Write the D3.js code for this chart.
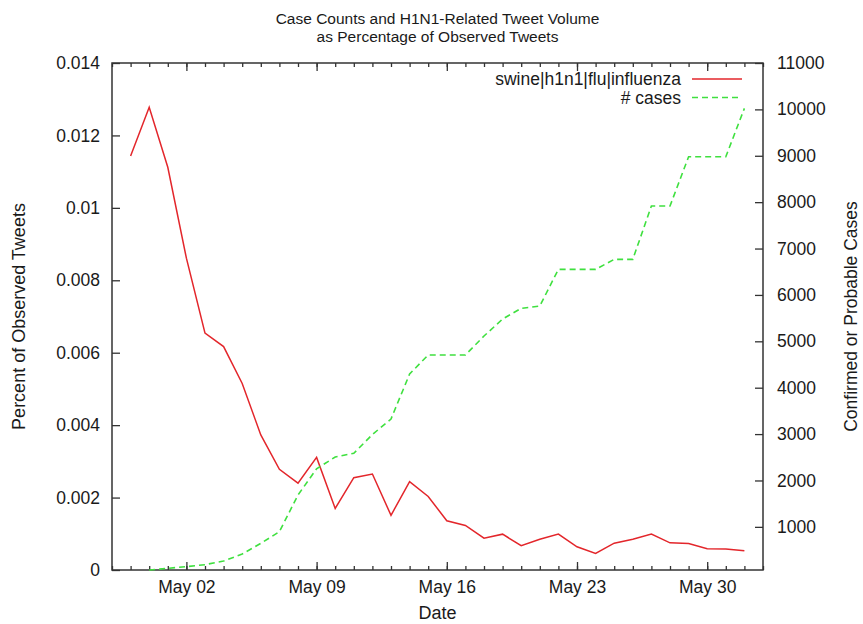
<!DOCTYPE html>
<html>
<head>
<meta charset="utf-8">
<script src="https://cdn.jsdelivr.net/npm/d3@7/dist/d3.min.js"></script>
<style>
  body { margin: 0; background: #fff; }
  svg text { font-family: "Liberation Sans", Arial, sans-serif; fill: #1a1a1a; }
  .axis line { stroke: #333; stroke-width: 1.3px; }
  .axis path { display: none; }
</style>
</head>
<body>
<svg id="chart" width="863" height="624"></svg>
<script>
// tweet volume (% of observed tweets), one value per day from Apr 29
const tweetStart = "2009-04-29";
const tweetPct = [0.01143, 0.01278, 0.01112, 0.00861, 0.00654, 0.00617, 0.00515, 0.00373,
  0.00278, 0.00240, 0.00311, 0.00170, 0.00255, 0.00265, 0.00151, 0.00244, 0.00203,
  0.00136, 0.00123, 0.00088, 0.00099, 0.00067, 0.00085, 0.00099, 0.00064, 0.00046,
  0.00074, 0.00085, 0.00099, 0.00075, 0.00073, 0.00059, 0.00058, 0.00053];

// confirmed or probable cases, one value per day from Apr 30
const caseStart = "2009-04-30";
const caseCounts = [70, 107, 141, 185, 264, 415, 645, 896, 1687, 2252, 2506, 2586, 2991,
  3325, 4295, 4705, 4705, 4705, 5114, 5481, 5711, 5761, 6552, 6552, 6552, 6767, 6767,
  7917, 7917, 8979, 8979, 8979, 10022];

const xDomain = ["2009-04-28", "2009-06-02"];
const majorTickDates = ["2009-05-02", "2009-05-09", "2009-05-16", "2009-05-23", "2009-05-30"];
const leftTicks = [0, 0.002, 0.004, 0.006, 0.008, 0.01, 0.012, 0.014];
const rightTicks = [1000, 2000, 3000, 4000, 5000, 6000, 7000, 8000, 9000, 10000, 11000];

const seriesNames = ["swine|h1n1|flu|influenza", "# cases"];
const titleLines = ["Case Counts and H1N1-Related Tweet Volume", "as Percentage of Observed Tweets"];

const parse = d3.timeParse("%Y-%m-%d");
const dayList = (start, n) => d3.range(n).map(i => d3.timeDay.offset(parse(start), i));
const tweetData = dayList(tweetStart, tweetPct.length).map((d, i) => ({date: d, v: tweetPct[i]}));
const caseData = dayList(caseStart, caseCounts.length).map((d, i) => ({date: d, v: caseCounts[i]}));

const svg = d3.select("#chart"),
  margin = {top: 63, right: 100, bottom: 54, left: 112},
  width = +svg.attr("width") - margin.left - margin.right,
  height = +svg.attr("height") - margin.top - margin.bottom,
  g = svg.append("g").attr("transform", "translate(" + margin.left + "," + margin.top + ")");

const x = d3.scaleTime().domain(xDomain.map(parse)).range([0, width]);
const y = d3.scaleLinear().domain([0, 0.014]).range([height, 0]);
const y2 = d3.scaleLinear().domain([d3.min(caseCounts), 11000]).range([height, 0]);

const red = "#e3262b", green = "#3fe03f";
const fontSize = 17.5;

// minor daily ticks, bottom and top
const days = d3.timeDay.range(x.domain()[0], d3.timeDay.offset(x.domain()[1], 1));
g.append("g").attr("class", "axis")
  .attr("transform", "translate(0," + height + ")")
  .call(d3.axisBottom(x).tickValues(days).tickSize(-4).tickFormat(""));
g.append("g").attr("class", "axis")
  .call(d3.axisTop(x).tickValues(days).tickSize(-4).tickFormat(""));

// major weekly ticks
g.append("g").attr("class", "axis")
  .attr("transform", "translate(0," + height + ")")
  .call(d3.axisBottom(x).tickValues(majorTickDates.map(parse)).tickSize(-8).tickPadding(11)
    .tickFormat(d3.timeFormat("%b %d")));
g.append("g").attr("class", "axis")
  .call(d3.axisTop(x).tickValues(majorTickDates.map(parse)).tickSize(-8).tickFormat(""));

g.append("g").attr("class", "axis")
  .call(d3.axisLeft(y).tickValues(leftTicks).tickSize(-8).tickPadding(12)
    .tickFormat(d => String(+d.toFixed(3))));

g.append("g").attr("class", "axis")
  .attr("transform", "translate(" + width + ",0)")
  .call(d3.axisRight(y2).tickValues(rightTicks).tickSize(-8).tickPadding(14).tickFormat(d3.format("d")));

g.selectAll(".axis text").attr("font-size", fontSize).style("fill", "#1a1a1a");

// frame
g.append("rect")
  .attr("width", width).attr("height", height)
  .attr("fill", "none").attr("stroke", "#333").attr("stroke-width", 1.5);

const lineTweets = d3.line().x(d => x(d.date)).y(d => y(d.v));
const lineCases = d3.line().x(d => x(d.date)).y(d => y2(d.v));

g.append("path").datum(tweetData)
  .attr("d", lineTweets).attr("fill", "none").attr("stroke", red).attr("stroke-width", 1.5);
g.append("path").datum(caseData)
  .attr("d", lineCases).attr("fill", "none").attr("stroke", green)
  .attr("stroke-width", 1.6).attr("stroke-dasharray", "6,4");

// legend
const legend = g.append("g").attr("transform", "translate(" + (width - 82) + ",16)");
seriesNames.forEach((name, i) => {
  const row = legend.append("g").attr("transform", "translate(0," + (i * 18.5) + ")");
  row.append("text").attr("x", 0).attr("y", 0).attr("dy", "0.35em")
    .attr("text-anchor", "end").attr("font-size", fontSize).text(name);
  row.append("line").attr("x1", 11).attr("x2", 61).attr("y1", 0).attr("y2", 0)
    .attr("stroke", i === 0 ? red : green).attr("stroke-width", i === 0 ? 1.5 : 1.6)
    .attr("stroke-dasharray", i === 0 ? null : "6,4");
});

// title and axis labels
svg.append("g").selectAll("text").data(titleLines).enter().append("text")
  .attr("x", margin.left + width / 2).attr("y", (d, i) => 24 + i * 18)
  .attr("text-anchor", "middle").attr("font-size", 15.5).text(d => d);

svg.append("text")
  .attr("x", margin.left + width / 2).attr("y", 619)
  .attr("text-anchor", "middle").attr("font-size", 18).text("Date");

svg.append("text")
  .attr("transform", "translate(25," + (margin.top + height / 2) + ") rotate(-90)")
  .attr("text-anchor", "middle").attr("font-size", 18).text("Percent of Observed Tweets");

svg.append("text")
  .attr("transform", "translate(857," + (margin.top + height / 2) + ") rotate(-90)")
  .attr("text-anchor", "middle").attr("font-size", 17.5).text("Confirmed or Probable Cases");
</script>
</body>
</html>
